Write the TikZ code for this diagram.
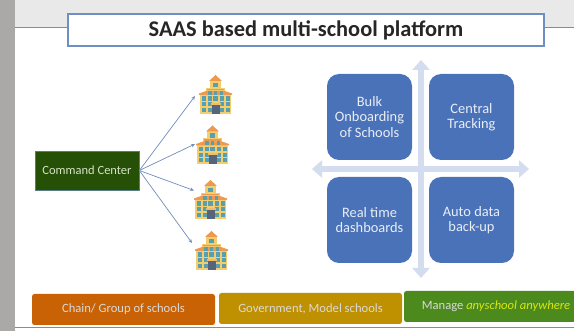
\documentclass[tikz,border=0pt]{standalone}
\usepackage{fontspec}
\setmainfont{Carlito}
\usetikzlibrary{arrows.meta}
\definecolor{stripgray}{HTML}{ABA9A8}
\definecolor{bandgray}{HTML}{E9E9E9}
\definecolor{lineblue}{HTML}{6F8FC4}
\definecolor{quadblue}{HTML}{4A72B8}
\definecolor{crossblue}{HTML}{D4DCEF}
\definecolor{cmdgreen}{HTML}{265005}
\definecolor{cmdtext}{HTML}{D5E3C8}
\definecolor{chainorange}{HTML}{C96205}
\definecolor{govgold}{HTML}{BF9000}
\definecolor{mgrgreen}{HTML}{4C8A1E}
\definecolor{wall}{HTML}{F4CE6E}
\definecolor{roof}{HTML}{EC9A50}
\definecolor{glass}{HTML}{5A9FAE}
\definecolor{door}{HTML}{56657C}
\tikzset{
  x=1pt,y=-1pt,
  titlebox/.style={draw=lineblue,line width=1.1pt,fill=white,minimum width=476pt,minimum height=32pt,inner sep=0pt,font=\bfseries\fontsize{22.4}{26}\selectfont,text=black!85},
  quad/.style={fill=quadblue,rounded corners=12pt,minimum width=85pt,minimum height=86pt,inner sep=0pt,align=center,text=white!88!quadblue,font=\fontsize{14.4}{15.5}\selectfont},
  band/.style={rounded corners=2.5pt,minimum height=31pt,inner sep=0pt,text=white!85!black,font=\fontsize{12.6}{14}\selectfont},
  cross/.style={draw=crossblue,line width=5.5pt,{Triangle[width=17pt,length=10pt]}-{Triangle[width=17pt,length=10pt]}},
  link/.style={draw=lineblue!85!gray,line width=0.7pt,-{Stealth[length=4pt,width=3.5pt]}},
  pics/school/.style={code={
    \fill[wall] (11,5) rectangle (22,16);
    \fill[wall] (1,19) rectangle (32,39);
    \fill[wall] (7,13) rectangle (26,20);
    \fill[roof] (16.5,0) -- (23,6) -- (10,6) -- cycle;
    \fill[roof] (8,14) rectangle (25,15.5);
    \fill[roof] (0,18.5) -- (7,16) -- (26,16) -- (33,18.5) -- (33,20) -- (0,20) -- cycle;
    \fill[glass] (14,8) rectangle (19,12.5);
    \foreach \gx in {9,14.75,20.5} \fill[glass] (\gx,15.8) rectangle +(3.5,3.8);
    \foreach \gx in {3,8.5,21,27}{
      \fill[glass] (\gx,21.5) rectangle +(4,4.5);
      \fill[glass] (\gx,27.5) rectangle +(4,4);
      \fill[glass] (\gx,33) rectangle +(4,4);}
    \fill[glass] (14,21.5) rectangle +(5,4.5);
    \fill[door] (12.5,30) rectangle (20.5,39);
    \fill[wall!70!roof] (11.5,28) rectangle (21.5,30);
  }}
}
\begin{document}
\begin{tikzpicture}
\useasboundingbox (0,0) rectangle (574,331);
\fill[white] (0,0) rectangle (574,331);
\fill[bandgray] (15,0) rectangle (574,28);
\fill[stripgray] (0,0) rectangle (15,331);
\draw[lineblue,line width=1pt] (15,28) -- (574,28);
\draw[lineblue,line width=1pt] (15,328) -- (574,328);
\node[titlebox,text depth=3pt,text height=17pt] (title) at (306,30) {SAAS based multi-school platform};
% quadrant
\coordinate (ct) at (421,60);
\coordinate (cb) at (421,278);
\coordinate (cl) at (312,169);
\coordinate (cr) at (529,169);
\draw[cross] (cl) -- (cr);
\draw[cross] (cb) -- (ct);
\node[quad] (q1) at (369.5,117) {Bulk\\Onboarding\\of Schools};
\node[quad] (q2) at (471.5,117) {Central\\Tracking};
\node[quad] (q3) at (369.5,220) {Real time\\dashboards};
\node[quad] (q4) at (471.5,220) {Auto data\\back-up};
% schools
\pic at (199,75) {school};
\pic at (196,125.5) {school};
\pic at (194,180) {school};
\pic at (195,231) {school};
\coordinate (s1) at (195,96);
\coordinate (s2) at (195,144);
\coordinate (s3) at (194,190.5);
\coordinate (s4) at (192,243);
\node[draw=lineblue!70!cmdgreen,line width=0.7pt,fill=cmdgreen,text=cmdtext,minimum width=104pt,minimum height=39pt,inner sep=0pt,font=\fontsize{12.5}{14}\selectfont] (cmd) at (87,170.5) {Command Center};
\foreach \t in {s1,s2,s3,s4} \draw[link] (cmd.east) -- (\t);
% bottom bands
\node[band,fill=chainorange,minimum width=183pt] (b1) at (123.5,309.5) {Chain/ Group of schools};
\node[band,fill=govgold,minimum width=183pt] (b2) at (310.5,308.5) {Government, Model schools};
\node[band,fill=mgrgreen,minimum width=172pt] (b3) at (490,306.5) {\hspace*{12pt}Manage \textcolor{yellow!85!green}{\itshape anyschool anywhere}};
\end{tikzpicture}
\end{document}
